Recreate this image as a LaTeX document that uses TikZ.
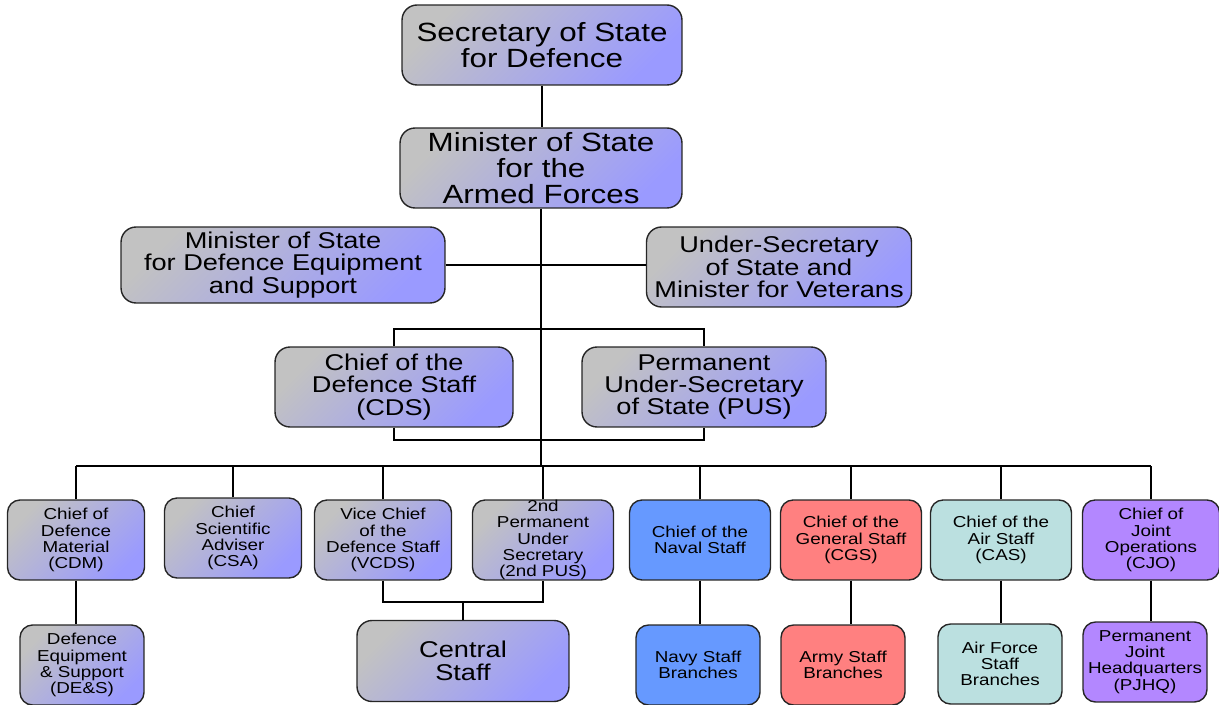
\documentclass[tikz,border=0pt]{standalone}
\usepackage{fontspec}
\setmainfont{Liberation Sans}[FakeStretch=1.19]
\usepackage{xcolor}
\usepackage{tikz}
\usetikzlibrary{positioning, calc, shapes}

\definecolor{boxgray}{HTML}{C2C2C2}
\definecolor{lavender}{HTML}{9A9AFF}
\definecolor{navyblue}{HTML}{6699FF}
\definecolor{armyred}{HTML}{FF8080}
\definecolor{aircyan}{HTML}{BBE0E0}
\definecolor{jointviolet}{HTML}{B387FF}

\tikzstyle{box} = [draw=black!85, line width=0.8pt, rounded corners=0.3cm, align=center, inner sep=0pt]
\tikzstyle{grad} = [top color=boxgray, bottom color=lavender, shading angle=45]
\tikzstyle{bigpost} = [box, grad, font=\fontsize{15}{14.8}\selectfont, minimum height=1.6cm]
\tikzstyle{midpost} = [box, grad, font=\fontsize{13}{12.8}\selectfont, minimum height=1.6cm]
\tikzstyle{smallbox} = [box, font=\fontsize{9}{9.2}\selectfont, minimum width=2.74cm, minimum height=1.6cm, rounded corners=0.25cm]
\tikzstyle{smallpost} = [smallbox, grad]
\tikzstyle{branch} = [smallbox, minimum width=2.48cm]
\tikzstyle{link} = [line width=0.6pt, black]

\begin{document}
\begin{tikzpicture}[x=0.02cm, y=-0.02cm]

\useasboundingbox (0, 0) rectangle (1219, 705);

% Ministers
\node [bigpost, minimum width=5.6cm] (sos) at (542, 45) {Secretary of State\\for Defence};
\node [bigpost, minimum width=5.64cm] (mosaf) at (541, 168) {Minister of State\\for the\\Armed Forces};
\node [midpost, minimum width=6.48cm, minimum height=1.52cm] (mosdes) at (283, 265) {Minister of State\\for Defence Equipment\\and Support};
\node [midpost, minimum width=5.3cm] (usos) at (779, 267) {Under-Secretary\\of State and\\Minister for Veterans};

% Heads
\node [midpost, minimum width=4.76cm] (cds) at (394, 387) {Chief of the\\Defence Staff\\(CDS)};
\node [midpost, minimum width=4.88cm] (pus) at (704, 387) {Permanent\\Under-Secretary\\of State (PUS)};

% Chiefs
\node [smallpost] (cdm) at (76, 540) {Chief of\\Defence\\Material\\(CDM)};
\node [smallpost] (csa) at (233, 538) {Chief\\Scientific\\Adviser\\(CSA)};
\node [smallpost] (vcds) at (383, 540) {Vice Chief\\of the\\Defence Staff\\(VCDS)};
\node [smallpost, minimum width=2.82cm] (pus2) at (543, 540) {2nd\\Permanent\\Under\\Secretary\\(2nd PUS)};
\node [smallbox, minimum width=2.82cm, fill=navyblue] (cns) at (700, 540) {Chief of the\\Naval Staff};
\node [smallbox, minimum width=2.82cm, fill=armyred] (cgs) at (851, 540) {Chief of the\\General Staff\\(CGS)};
\node [smallbox, minimum width=2.82cm, fill=aircyan] (cas) at (1001, 540) {Chief of the\\Air Staff\\(CAS)};
\node [smallbox, fill=jointviolet] (cjo) at (1151, 540) {Chief of\\Joint\\Operations\\(CJO)};

% Branches
\node [branch, grad] (des) at (82, 665) {Defence\\Equipment\\\& Support\\(DE\&S)};
\node [midpost, minimum width=4.24cm, minimum height=1.62cm] (central) at (463, 661) {Central\\Staff};
\node [branch, fill=navyblue] (navy) at (698, 665) {Navy Staff\\Branches};
\node [branch, fill=armyred] (army) at (843, 665) {Army Staff\\Branches};
\node [branch, fill=aircyan] (air) at (1000, 664) {Air Force\\Staff\\Branches};
\node [branch, fill=jointviolet] (pjhq) at (1145, 662) {Permanent\\Joint\\Headquarters\\(PJHQ)};

\coordinate (upbar) at (0, 329);
\coordinate (lowbar) at (0, 440);
\coordinate (bus) at (0, 466);
\coordinate (cbar) at (0, 602);

% Connectors
\draw [link] (sos.south) -- (sos.south |- mosaf.north);
\draw [link] (mosaf.south) -- (mosaf.south |- bus);
\draw [link] (mosdes.east) -- (mosdes.east -| usos.west);
\draw [link] (cds.north) |- (pus.north |- upbar) -- (pus.north);
\draw [link] (cds.south) |- (pus.south |- lowbar) -- (pus.south);
\draw [link] (cdm.north |- bus) -- (cjo.north |- bus);
\draw [link] (cdm.north) -- (cdm.north |- bus);
\draw [link] (csa.north) -- (csa.north |- bus);
\draw [link] (vcds.north) -- (vcds.north |- bus);
\draw [link] (pus2.north) -- (pus2.north |- bus);
\draw [link] (cns.north) -- (cns.north |- bus);
\draw [link] (cgs.north) -- (cgs.north |- bus);
\draw [link] (cas.north) -- (cas.north |- bus);
\draw [link] (cjo.north) -- (cjo.north |- bus);

\draw [link] (cdm.south) -- (cdm.south |- des.north);
\draw [link] (vcds.south) |- (pus2.south |- cbar) -- (pus2.south);
\draw [link] (central.north) -- (central.north |- cbar);
\draw [link] (cns.south) -- (cns.south |- navy.north);
\draw [link] (cgs.south) -- (cgs.south |- army.north);
\draw [link] (cas.south) -- (cas.south |- air.north);
\draw [link] (cjo.south) -- (cjo.south |- pjhq.north);

\end{tikzpicture}
\end{document}
